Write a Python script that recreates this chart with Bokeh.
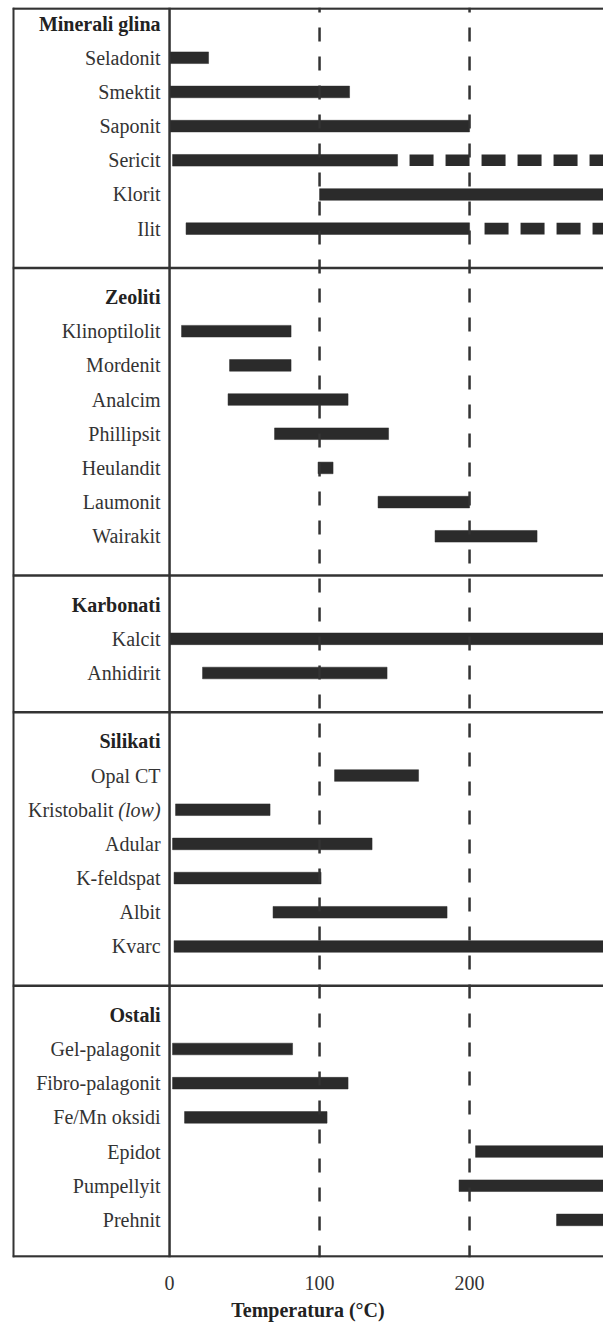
from bokeh.plotting import figure
from bokeh.models import Range1d, Span, FixedTicker, ColumnDataSource
from bokeh.core.properties import value
from bokeh.embed import file_html
from bokeh.resources import INLINE

# ---------------- data ----------------
groups = ["Minerali glina", "Zeoliti", "Karbonati", "Silikati", "Ostali"]

clay = ["Seladonit", "Smektit", "Saponit", "Sericit", "Klorit", "Ilit"]
clay_min = [0, 0, 0, 2, 100, 11]
clay_max = [26, 120, 200, 152, 300, 200]

zeolites = ["Klinoptilolit", "Mordenit", "Analcim", "Phillipsit", "Heulandit", "Laumonit", "Wairakit"]
zeo_min = [8, 40, 39, 70, 99, 139, 177]
zeo_max = [81, 81, 119, 146, 109, 200, 245]

carbonates = ["Kalcit", "Anhidirit"]
carb_min = [0, 22]
carb_max = [300, 145]

silicates = ["Opal CT", "Kristobalit (low)", "Adular", "K-feldspat", "Albit", "Kvarc"]
sil_min = [110, 4, 2, 3, 69, 3]
sil_max = [166, 67, 135, 101, 185, 300]

others = ["Gel-palagonit", "Fibro-palagonit", "Fe/Mn oksidi", "Epidot", "Pumpellyit", "Prehnit"]
oth_min = [2, 2, 10, 204, 193, 258]
oth_max = [82, 119, 105, 300, 300, 300]

# uncertain (dashed) extensions
uncertain = ["Sericit", "Ilit"]
unc_min = [160, 210]
unc_max = [300, 300]

ticks = [0, 100, 200]
x_title = "Temperatura (°C)"

# ---------------- layout ----------------
members = [clay, zeolites, carbonates, silicates, others]
mins = [clay_min, zeo_min, carb_min, sil_min, oth_min]
maxs = [clay_max, zeo_max, carb_max, sil_max, oth_max]

TOP_PAD = 0.47
BOTTOM_PAD = 1.1
DIV_SHIFT = 0.15

header_rows, item_rows, item_names, item_lo, item_hi, dividers = [], [], [], [], [], []
row = 0
for gi, g in enumerate(groups):
    header_rows.append(row)
    row += 1
    for name, lo, hi in zip(members[gi], mins[gi], maxs[gi]):
        item_rows.append(row)
        item_names.append(name)
        item_lo.append(lo)
        item_hi.append(hi)
        row += 1
    if gi < len(groups) - 1:
        dividers.append(row + DIV_SHIFT)
        row += 1
last_row = row - 1
y_top = -TOP_PAD
y_bot = last_row + BOTTOM_PAD

FONT = "Liberation Serif"
INK = "#333333"
BAR = "#2b2b2b"

p = figure(width=603, height=1323, output_backend="svg", toolbar_location=None,
           x_range=Range1d(-104.7, 289.3), y_range=Range1d(y_bot, y_top),
           y_axis_location=None, min_border_left=12, min_border_right=0,
           min_border_top=7, min_border_bottom=66)
p.xgrid.visible = False
p.ygrid.visible = False
p.outline_line_color = None
p.background_fill_color = "white"
p.border_fill_color = "white"

# vertical dashed reference lines
for t in ticks[1:]:
    p.add_layout(Span(location=t, dimension="height", line_color=INK,
                      line_width=2.5, line_dash="14 15", line_dash_offset=9))

# bars
src = ColumnDataSource(dict(y=item_rows, lo=item_lo, hi=item_hi))
p.hbar(y="y", left="lo", right="hi", height=0.34, source=src,
       fill_color=BAR, line_color=BAR, line_width=0.5)

# dashed uncertain extensions
unc_rows = [item_rows[item_names.index(n)] for n in uncertain]
p.segment(x0=unc_min, y0=unc_rows, x1=unc_max, y1=unc_rows, line_color=BAR,
          line_width=11.6, line_dash="24 12", line_cap="butt")

# frame lines
p.add_layout(Span(location=0, dimension="height", line_color=INK, line_width=2.5))
p.add_layout(Span(location=-104.2, dimension="height", line_color=INK, line_width=2.5))
for d in dividers + [y_top + 0.03, y_bot - 0.03]:
    p.add_layout(Span(location=d, dimension="width", line_color=INK, line_width=2.5))

# labels
main_txt, offs, ital_txt, ital_rows = [], [], [], []
for r, n in zip(item_rows, item_names):
    if " (" in n:
        a, b = n.split(" (", 1)
        main_txt.append(a)
        offs.append(-56)
        ital_txt.append("(" + b)
        ital_rows.append(r)
    else:
        main_txt.append(n)
        offs.append(-9)
lab = ColumnDataSource(dict(x=[0] * len(item_rows), y=item_rows, t=main_txt, o=offs))
p.text(x="x", y="y", text="t", x_offset="o", source=lab, text_align="right",
       text_baseline="middle", text_font=value(FONT), text_font_size="20px",
       text_color=INK)
p.text(x=[0] * len(ital_rows), y=ital_rows, text=ital_txt, x_offset=-9,
       text_align="right", text_baseline="middle", text_font=value(FONT),
       text_font_size="20px", text_font_style="italic", text_color=INK)
p.text(x=[0] * len(groups), y=header_rows, text=groups, x_offset=-9,
       text_align="right", text_baseline="middle", text_font=value(FONT),
       text_font_size="20px", text_font_style="bold", text_color="#222222")

# x axis
ax = p.xaxis[0]
ax.ticker = FixedTicker(ticks=ticks)
ax.axis_line_color = None
ax.major_tick_line_color = None
ax.minor_tick_line_color = None
ax.major_tick_out = 0
ax.major_tick_in = 0
ax.major_label_standoff = 18
ax.major_label_text_font = FONT
ax.major_label_text_font_size = "20px"
ax.major_label_text_color = INK
ax.axis_label = x_title
ax.axis_label_standoff = 6
ax.axis_label_text_font = FONT
ax.axis_label_text_font_size = "20px"
ax.axis_label_text_font_style = "bold"
ax.axis_label_text_color = "#222222"

open("out.html", "w").write(file_html(p, INLINE))
